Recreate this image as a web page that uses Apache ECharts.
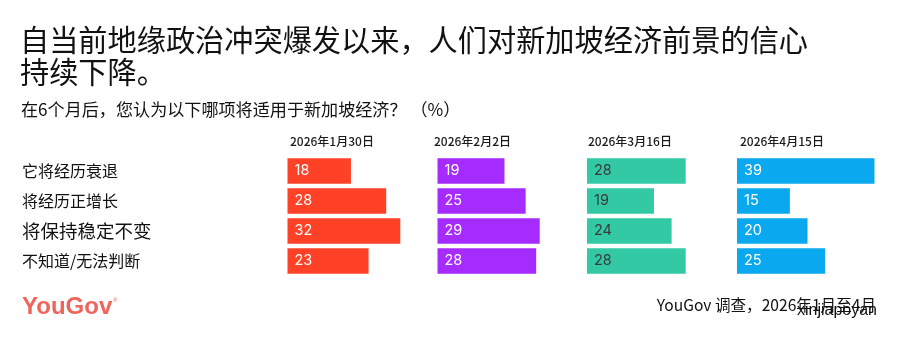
<!DOCTYPE html>
<html><head><meta charset="utf-8">
<script src="https://cdn.jsdelivr.net/npm/echarts@6/dist/echarts.min.js"></script>
<style>html,body{margin:0;padding:0;background:#fff}#c{width:897px;height:340px}</style>
</head><body><div id="c"></div>
<script>
const categories = ['它将经历衰退', '将经历正增长', '将保持稳定不变', '不知道/无法判断'];
const waveDates = ['2026年1月30日', '2026年2月2日', '2026年3月16日', '2026年4月15日'];
const wave1 = [18, 28, 32, 23];
const wave2 = [19, 25, 29, 28];
const wave3 = [28, 19, 24, 28];
const wave4 = [39, 15, 20, 25];
const waveValues = [wave1, wave2, wave3, wave4];
const barColors = ['#FF4128', '#A52BFF', '#33C9A5', '#0AA9EF'];
const labelColors = ['#ffffff', '#ffffff', '#3a3a3a', '#ffffff'];
const titleText = '自当前地缘政治冲突爆发以来，人们对新加坡经济前景的信心\n持续下降。';
const subtitleText = '在6个月后，您认为以下哪项将适用于新加坡经济？ （%）';
const sourceText = 'YouGov 调查，2026年1月至4月';
const watermark = 'xinjiapoyan';

const FONT = '"Noto Sans CJK SC", "Noto Sans", sans-serif';
const panelLeft = [287.5, 437.5, 587, 737];
const headerLeft = [290, 434, 588, 740];

const grids = [], xAxes = [], yAxes = [], series = [], titles = [];
titles.push({text: titleText, left: 20, top: 24, padding: 0,
  textStyle: {fontFamily: FONT, fontSize: 29.2, fontWeight: 'normal', color: '#111', lineHeight: 32}});
titles.push({text: subtitleText, left: 21, top: 99, padding: 0,
  textStyle: {fontFamily: FONT, fontSize: 17.1, fontWeight: 'normal', color: '#111', lineHeight: 20}});
for (let i = 0; i < 4; i++) {
  grids.push({left: panelLeft[i], top: 156, width: 141, height: 120});
  xAxes.push({gridIndex: i, type: 'value', min: 0, max: 40, show: false});
  yAxes.push({gridIndex: i, type: 'category', data: categories, inverse: true,
    axisLine: {show: false}, axisTick: {show: false}, splitLine: {show: false},
    axisLabel: i === 0 ? {
      show: true, align: 'left', margin: panelLeft[0] - 22,
      fontFamily: FONT, fontSize: 16, color: '#111',
      formatter: (v, idx) => idx === 2 ? '{big|' + v + '}' : v,
      rich: {big: {fontFamily: FONT, fontSize: 18.5, color: '#111'}}
    } : {show: false}});
  series.push({type: 'bar', xAxisIndex: i, yAxisIndex: i, data: waveValues[i],
    barWidth: 25.5, itemStyle: {color: barColors[i]},
    label: {show: true, position: 'insideLeft', distance: 7, fontFamily: 'Inter, Roboto, sans-serif',
      fontSize: 14.5, color: labelColors[i]},
    silent: true, animation: false});
  titles.push({text: waveDates[i], left: headerLeft[i], top: 133, padding: 0,
    textStyle: {fontFamily: FONT, fontSize: 12, fontWeight: 500, color: '#1a1a1a', lineHeight: 16}});
}

const chart = echarts.init(document.getElementById('c'), null, {renderer: 'canvas'});
chart.setOption({
  animation: false,
  backgroundColor: '#fff',
  title: titles,
  grid: grids, xAxis: xAxes, yAxis: yAxes, series: series,
  graphic: [
    {type: 'text', left: 22, top: 295, style: {text: 'YouGov', fill: '#F0645B',
      font: 'bold 24px "Liberation Sans", Arial, sans-serif'}},
    {type: 'text', left: 113, top: 297, style: {text: '®', fill: '#F0645B',
      font: '6px "Liberation Sans", sans-serif'}},
    {type: 'text', right: 21, top: 297, style: {text: sourceText, fill: '#111',
      font: '15.6px ' + FONT}},
    {type: 'text', right: 20, top: 303, style: {text: watermark, fill: '#111',
      font: '16px "Liberation Sans", "Noto Sans", sans-serif'}}
  ]
});
</script></body></html>
